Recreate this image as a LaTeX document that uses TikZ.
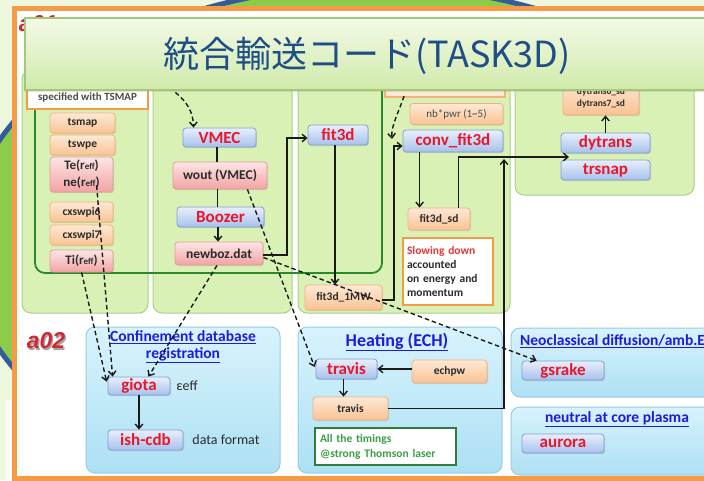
\documentclass[tikz,border=0pt]{standalone}
\usepackage{fontspec}
\setmainfont{Carlito}
\newfontfamily\cjkfont{Noto Sans CJK JP}
\newfontfamily\arialfont{Liberation Sans}
\usetikzlibrary{shadows,arrows.meta,calc}
\definecolor{bgl}{HTML}{EEF8DF}
\definecolor{ellgreen}{HTML}{8DCB4B}
\definecolor{ellblue}{HTML}{335C99}
\definecolor{frameor}{HTML}{F79A46}
\definecolor{bluebd}{HTML}{7E9FD4}
\definecolor{bluetop}{HTML}{E8EFFC}
\definecolor{bluebot}{HTML}{A7C1EB}
\definecolor{codered}{HTML}{E8172B}
\definecolor{orbd}{HTML}{F2B27E}
\definecolor{ortop}{HTML}{FDE9D5}
\definecolor{orbot}{HTML}{F9C393}
\definecolor{pkbd}{HTML}{E29B9B}
\definecolor{pktop}{HTML}{FDE5E5}
\definecolor{pkbot}{HTML}{F2A3A3}
\definecolor{gpfill}{HTML}{DAF1B6}
\definecolor{gpbd}{HTML}{A8D18D}
\definecolor{bptop}{HTML}{D8F3FC}
\definecolor{bpbot}{HTML}{ADE0F4}
\definecolor{bpbd}{HTML}{95CDE6}
\definecolor{ptblue}{HTML}{1C1CE0}
\definecolor{txtdark}{HTML}{2B2B2B}
\definecolor{bantop}{HTML}{F3FAE6}
\definecolor{banbot}{HTML}{D0EAAA}
\definecolor{banbd}{HTML}{A3C878}
\definecolor{titleblue}{HTML}{1F4E86}
\definecolor{dgreen}{HTML}{2A8A2A}
\definecolor{tgreen}{HTML}{3A9E45}
\definecolor{ared}{HTML}{CC2A36}
\definecolor{slowred}{HTML}{E83535}
\definecolor{lineblk}{HTML}{1A1A1A}
\tikzset{
  bx/.style={rounded corners=3pt, inner sep=0pt, line width=0.8pt,
    drop shadow={opacity=0.25, shadow xshift=1pt, shadow yshift=-1.2pt}},
  bluebx/.style={bx, draw=bluebd, top color=bluetop, bottom color=bluebot,
    text=codered, font=\bfseries\fontsize{17}{18}\selectfont},
  orbx/.style={bx, draw=orbd, top color=ortop, bottom color=orbot,
    text=txtdark, font=\bfseries\fontsize{11.5}{13}\selectfont},
  pkbx/.style={bx, draw=pkbd, top color=pktop, bottom color=pkbot,
    text=txtdark, font=\bfseries\fontsize{13}{17}\selectfont},
  gpanel/.style={draw=gpbd, fill=gpfill, rounded corners=9pt, line width=1pt},
  bpanel/.style={draw=bpbd, top color=bptop, bottom color=bpbot, rounded corners=9pt, line width=1pt},
  ptitle/.style={text=ptblue, font=\bfseries\fontsize{15.5}{17}\selectfont, inner sep=0pt},
  conn/.style={draw=lineblk, line width=1.4pt, ->},
  plainline/.style={draw=lineblk, line width=1.4pt},
  dconn/.style={draw=lineblk, line width=1.4pt, ->, dash pattern=on 4.5pt off 3pt},
}
\begin{document}
\begin{tikzpicture}[x=1pt, y=-1pt, >={Straight Barb[length=4.5pt,width=7.5pt]}]
\useasboundingbox (0,0) rectangle (704,480);
% background decoration
\fill[bgl] (0,0) rectangle (704,480);
\path[fill=ellgreen, draw=ellblue, line width=5pt] (370,245) ellipse [x radius=405, y radius=259];
\fill[white] (6,400) rectangle (12,480);
% orange frame
\draw[frameor, line width=5pt, fill=white] (14.5,8.5) rectangle (725,478.5);

% top green panels
\path[gpanel] (22,70) rectangle (148,313);
\path[gpanel] (153,70) rectangle (292,313);
\path[gpanel] (298,70) rectangle (510,313);
\path[gpanel] (515,70) rectangle (694,195);
% bottom blue panels
\path[bpanel] (86,327) rectangle (280,473);
\path[bpanel] (298,327) rectangle (502,473);
\path[bpanel] (511,328) rectangle (720,397);
\path[bpanel] (511,407) rectangle (720,475);

% dark green frame
\draw[dgreen, line width=1.8pt, rounded corners=10pt] (35,70) rectangle (382,273);

% boxes partly hidden under the banner
\node[draw=frameor, line width=2pt, fill=white, minimum width=121pt, minimum height=24pt, inner sep=0pt,
  text=txtdark!85, font=\bfseries\fontsize{11}{12}\selectfont] (tsmapnote) at (87.5,97) {\raisebox{-2pt}{specified with TSMAP}};
\node[draw=orbd, line width=1.5pt, fill=ortop, minimum width=120pt, minimum height=20pt, inner sep=0pt] (hbox) at (445,87) {};
\node[orbx, minimum width=76pt, minimum height=35pt, align=center,
  font=\bfseries\fontsize{9.5}{12}\selectfont] (dyt) at (601,97.5) {dytrans6\_sd\\dytrans7\_sd};

% panel 1 nodes
\node[orbx, minimum width=65pt, minimum height=20pt] (tsmap) at (82.5,123) {tsmap};
\node[orbx, minimum width=65pt, minimum height=20pt] (tswpe) at (82.5,145) {tswpe};
\node[pkbx, minimum width=63pt, minimum height=35pt, align=center] (tene) at (81.5,174.5)
  {Te(r{\fontsize{9}{10}\selectfont eff})\\ne(r{\fontsize{9}{10}\selectfont eff})};
\node[orbx, minimum width=63pt, minimum height=20pt] (cx6) at (81.5,212) {cxswpi6};
\node[orbx, minimum width=63pt, minimum height=20pt] (cx7) at (81.5,235) {cxswpi7};
\node[pkbx, minimum width=63pt, minimum height=22pt] (ti) at (81.5,261) {Ti(r{\fontsize{9}{10}\selectfont eff})};

% panel 2 nodes
\node[bluebx, minimum width=73pt, minimum height=19pt] (vmec) at (219.5,137.5) {VMEC};
\node[pkbx, font=\bfseries\fontsize{13.5}{15}\selectfont, minimum width=94pt, minimum height=27pt] (wout) at (220,175.5) {wout (VMEC)};
\node[bluebx, minimum width=87pt, minimum height=20pt] (boozer) at (220.5,217) {Boozer};
\node[pkbx, font=\bfseries\fontsize{13.5}{15}\selectfont, minimum width=88pt, minimum height=23pt] (newboz) at (219,253.5) {newboz.dat};

% panel 3 nodes
\node[bluebx, minimum width=60pt, minimum height=20pt] (fit3d) at (338,135) {fit3d};
\node[orbx, font=\fontsize{11}{12}\selectfont, text=txtdark!85, minimum width=93pt, minimum height=21pt] (nbpwr) at (456.5,114) {nb*pwr (1\textasciitilde5)};
\node[bluebx, minimum width=100pt, minimum height=22pt] (conv) at (453,141) {conv\_fit3d};
\node[orbx, minimum width=62pt, minimum height=22pt] (sd) at (439,219) {fit3d\_sd};
\node[draw=frameor, line width=2pt, fill=white, minimum height=67pt, text width=82pt, inner xsep=4pt, inner ysep=0pt,
  align=left, text=txtdark, font=\bfseries\fontsize{11.5}{14.3}\selectfont] (slow) at (448,271.5)
  {\textcolor{slowred}{Slowing down}\\accounted\\on energy and\\momentum};
\node[orbx, minimum width=77pt, minimum height=25pt] (onemw) at (343.5,297.5) {fit3d\_1MW};

% panel 4 nodes
\node[bluebx, minimum width=89pt, minimum height=20pt] (dytrans) at (605.5,143) {dytrans};
\node[bluebx, minimum width=89pt, minimum height=20pt] (trsnap) at (605.5,170) {trsnap};

% bottom nodes
\node[bluebx, minimum width=62pt, minimum height=18pt] (giota) at (139,386) {giota};
\node[text=txtdark, font=\fontsize{14}{16}\selectfont, inner sep=0pt] (eps) at (187,386) {εeff};
\node[bluebx, minimum width=75pt, minimum height=20pt] (ish) at (145.5,440) {ish-cdb};
\node[text=txtdark, font=\fontsize{14}{16}\selectfont, inner sep=0pt] (dfmt) at (226,440) {data format};

\node[bluebx, minimum width=61pt, minimum height=20pt] (travb) at (346.5,369) {travis};
\node[orbx, minimum width=75pt, minimum height=23pt] (echpw) at (449.5,371.5) {echpw};
\node[orbx, minimum width=75pt, minimum height=23pt] (travo) at (350.5,408.5) {travis};
\node[draw=tgreen!80!black, line width=2pt, fill=white, minimum height=37pt, text width=131pt, inner xsep=5pt, inner ysep=0pt,
  align=left, text=tgreen, font=\bfseries\fontsize{11.5}{15}\selectfont] (timing) at (385.5,446.5)
  {All the timings\\@strong Thomson laser};

\node[bluebx, minimum width=82pt, minimum height=19pt] (gsrake) at (563,370.5) {gsrake};
\node[bluebx, minimum width=82pt, minimum height=19pt] (aurora) at (563,443.5) {aurora};

% panel titles
\node[ptitle, align=center] (conft) at (183,347) {\underline{Confinement database}\\\underline{registration}};
\node[ptitle, font=\bfseries\fontsize{18}{20}\selectfont] (heatt) at (397,342) {\underline{Heating (ECH)}};
\node[ptitle, anchor=west] (neot) at (520,341) {\underline{Neoclassical diffusion/amb.E}};
\node[ptitle] (neut) at (617,419) {\underline{neutral at core plasma}};

% a02 label
\node[text=black!35, font=\arialfont\bfseries\itshape\fontsize{23}{24}\selectfont, inner sep=0pt] (atwoshadow) at (47.3,342.3) {a02};
\node[text=ared, font=\arialfont\bfseries\itshape\fontsize{23}{24}\selectfont, inner sep=0pt] (atwo) at (46,341) {a02};

% helper coordinates
\coordinate (bendA) at (287,200);
\coordinate (bendB) at (394,200);
\coordinate (dyin) at (569,157);
\coordinate (upend) at (504,159);
\coordinate (vsrc) at (163,84);
\coordinate (csrc) at (404,96);
\coordinate (cend) at (392,139);

% solid connectors
\path[plainline] ([xshift=-2.5pt]vmec.south) -- ([xshift=-2.5pt]vmec.south |- wout.north);
\path[plainline] ([xshift=-2.5pt]wout.south) -- ([xshift=-2.5pt]wout.south |- boozer.north);
\path[conn] ([xshift=-2.5pt]boozer.south) -- ([xshift=-2.5pt]boozer.south |- newboz.north);
\path[conn] ([yshift=-1.5pt]newboz.east) -- ([yshift=-1.5pt]newboz.east -| bendA) |- ([yshift=-3pt]fit3d.west);
\path[conn] ([xshift=-3pt]fit3d.south) -- ([xshift=-3pt]fit3d.south |- onemw.north);
\path[conn] ([yshift=-2.5pt]onemw.east) -- ([yshift=-2.5pt]onemw.east -| bendB) |- ([yshift=-5pt]conv.west);
\path[conn] ([xshift=12pt]sd.north west |- conv.south) -- ([xshift=12pt]sd.north west);
\path[conn] ([xshift=-12pt]sd.north east) |- (dyin);
\path[conn] (dytrans.north) -- (dytrans.north |- dyt.south);
\path[conn] (travo.east) -| (upend);
\path[conn] (echpw.west |- travb.east) -- (travb.east);
\path[conn] ([xshift=-3pt]travb.south) -- ([xshift=-3pt]travb.south |- travo.north);
\path[conn] (giota.south) -- (giota.south |- ish.north);

% dashed connectors
\path[dconn] (vsrc) .. controls (183,96) and (193,108) .. ([xshift=-26pt]vmec.north);
\path[dconn] (csrc) .. controls (399,112) and (391,125) .. (cend);
\path[dconn] ([xshift=47pt,yshift=7pt]tene.south west) -- ([xshift=5pt]giota.north west);
\path[dconn] ([xshift=32pt]ti.south west) -- ([xshift=-1pt,yshift=-5pt]giota.north west);
\path[dconn] ([xshift=-2pt]newboz.south) -- ([xshift=-22pt]giota.north east);
\path[dconn] ([xshift=-20pt]wout.south east) -- ([xshift=-1pt,yshift=2pt]travb.west);
\path[dconn] ([yshift=-4pt]newboz.east) -- ([xshift=15pt]gsrake.north west);

% a01 label (mostly hidden by banner)
\node[text=ared, font=\arialfont\bfseries\itshape\fontsize{23}{24}\selectfont, inner sep=0pt] (aone) at (38,24) {a01};

% title banner
\path[draw=banbd, top color=bantop, bottom color=banbot, line width=1.2pt,
  drop shadow={opacity=0.2, shadow xshift=0pt, shadow yshift=-1.5pt}] (25,18) rectangle (725,90);
\node[text=titleblue, font=\cjkfont\fontsize{36}{40}\selectfont, inner sep=0pt] (title) at (367,56) {統合輸送コード(TASK3D)};
\end{tikzpicture}
\end{document}
